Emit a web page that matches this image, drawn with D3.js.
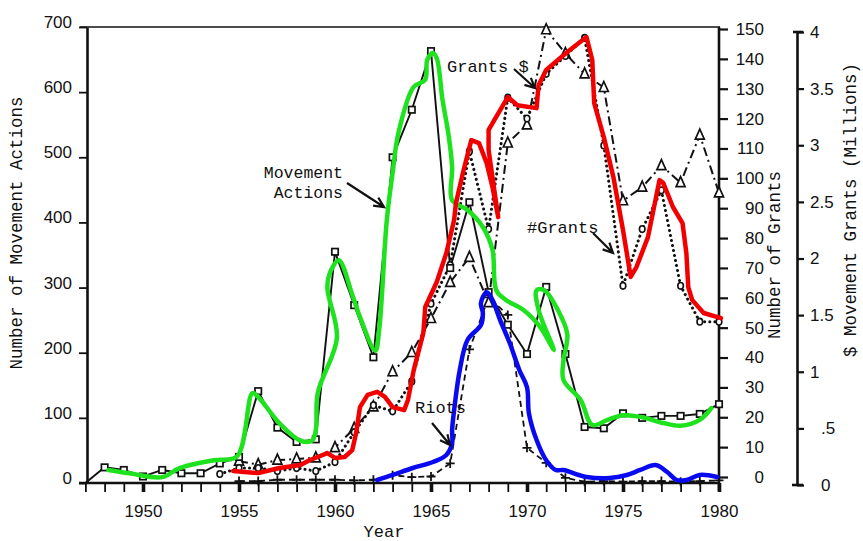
<!DOCTYPE html>
<html>
<head>
<meta charset="utf-8">
<script src="https://cdn.jsdelivr.net/npm/d3@7"></script>
<style>
  body { margin: 0; background: #fff; }
  .tick text { font-family: "Liberation Sans", Arial, sans-serif; font-size: 17px; fill: #111; }
  .mono { font-family: "Liberation Mono", "DejaVu Sans Mono", monospace; font-size: 17px; fill: #111; }
</style>
</head>
<body>
<div id="chart"></div>
<script>
// ---- data ----
var actionYears = [1947,1948,1949,1950,1951,1952,1953,1954,1955,1956,1957,1958,1959,1960,1961,1962,1963,
                   1964,1965,1966,1967,1968,1969,1970,1971,1972,1973,1974,1975,1976,1977,1978,1979,1980];
var actions = [0,24,20,10,20,15,15,30,40,141,85,63,67,355,273,193,500,
               573,663,330,431,293,243,198,301,198,86,84,107,100,103,103,106,121];

var riotYears = [1955,1956,1957,1958,1959,1960,1961,1962,1963,1964,1965,1966,1967,
                 1968,1969,1970,1971,1972,1973,1974,1975,1976,1977,1978,1979,1980];
var riots = [3,3,5,5,5,5,4,5,12,9,10,30,205,285,258,54,31,8,2,3,2,3,3,2,3,4];

var grantYears = [1954,1955,1956,1957,1958,1959,1960,1961,1962,1963,1964,1965,1966,1967,
                  1968,1969,1970,1971,1972,1973,1974,1975,1976,1977,1978,1979,1980];
var grantCount = [1,3,3,2,3,2,5,15,24,22,32,58,71,109,83,127,120,135,141,147,111,64,83,96,64,52,52];

var dollarYears = [1955,1956,1957,1958,1959,1960,1961,1962,1963,1964,1965,1966,1967,
                   1968,1969,1970,1971,1972,1973,1974,1975,1976,1977,1978,1979,1980];
var grantDollars = [0.21,0.18,0.22,0.23,0.24,0.33,0.50,0.69,1.00,1.17,1.47,1.79,2.01,
                    1.61,3.02,3.18,4.02,3.81,3.63,3.51,2.51,2.63,2.82,2.67,3.09,2.58];

// hand-drawn coloured traces: [year, value]
var greenTrace = [[1948.2,20],[1949.3,15],[1951.0,9],[1951.9,23],[1953.7,35],[1954.9,41],[1955.7,138],
  [1956.0,132],[1957.1,92],[1958.2,65],[1958.8,65],[1959.0,81],[1959.1,138],[1960.1,223],[1959.6,301],
  [1959.8,327],[1960.2,342],[1960.9,289],[1961.3,255],[1962.1,203],[1962.3,235],[1962.7,404],[1963.0,476],
  [1963.3,537],[1964.1,608],[1964.7,619],[1964.8,649],[1965.1,660],[1965.3,652],[1965.6,588],[1965.9,537],
  [1966.1,485],[1966.1,434],[1966.9,419],[1967.7,393],[1968.2,358],[1968.4,296],[1968.9,281],[1969.8,266],
  [1970.7,239],[1971.4,204],[1970.6,266],[1970.5,296],[1970.9,296],[1971.6,266],[1972.1,228],[1971.9,188],
  [1971.9,158],[1972.8,127],[1973.4,89],[1974.2,97],[1975.0,104],[1976.0,101],[1977.1,92],[1978.0,88],
  [1979.0,97],[1979.6,115]];

var redTrace = [[1954.7,2],[1956.0,1.3],[1957.1,3],[1958.2,4],[1958.7,5.7],[1959.1,6.7],[1959.6,8],
  [1960.0,6.4],[1960.5,6.7],[1960.9,9],[1961.1,14.7],[1961.3,23.4],[1961.7,27.5],[1962.2,28.5],
  [1962.6,26.8],[1963.0,23.4],[1963.6,22.4],[1963.8,25.8],[1964.1,35.8],[1964.6,48.2],[1964.7,56.9],
  [1965.3,65.3],[1965.8,75],[1966.2,86],[1966.3,91.7],[1966.7,102.8],[1967.1,112.8],[1967.5,111.8],
  [1967.9,105.1],[1968.2,97.1],[1968.5,87],[1968.2,100.4],[1968.0,109.5],[1968.0,116.2],[1969.0,127.2],
  [1969.5,124.5],[1970.5,123.5],[1970.6,131.2],[1971.0,136.3],[1972.1,142.3],[1973.1,147.3],
  [1973.4,139.6],[1973.5,125.2],[1974.0,113.8],[1974.5,100.4],[1975.0,82.7],[1975.4,67],[1975.7,70.3],
  [1976.3,80.3],[1976.9,99.4],[1977.1,98.4],[1977.6,90.4],[1978.1,85],[1978.3,75],[1978.4,63.6],
  [1978.6,59.3],[1979.2,54.9],[1980.1,53.2]];

var blueTrace = [[1962.2,4.6],[1963.0,12.3],[1964.05,23],[1965.1,32.2],[1965.8,43],[1966.1,61.4],
  [1966.1,81.4],[1966.25,122.8],[1966.5,173.5],[1966.9,219.5],[1967.6,242.6],[1967.7,261],[1967.6,276],
  [1967.9,293],[1968.2,281],[1968.6,250],[1969.1,215],[1969.6,173.5],[1970.0,147],[1970.1,107],
  [1970.5,66],[1971.0,35],[1971.5,20],[1971.9,20],[1972.7,12.3],[1973.1,9.2],[1974.3,7.7],[1975.2,12.3],
  [1975.9,20],[1976.7,27.6],[1977.3,16.9],[1977.8,4.6],[1978.3,4.6],[1979.0,12.3],[1979.9,9.2]];

var yearTicks = [1947,1948,1949,1950,1951,1952,1953,1954,1955,1956,1957,1958,1959,1960,1961,1962,1963,
                 1964,1965,1966,1967,1968,1969,1970,1971,1972,1973,1974,1975,1976,1977,1978,1979,1980];
var actionTicks = [0,100,200,300,400,500,600,700];
var grantTicks = [0,10,20,30,40,50,60,70,80,90,100,110,120,130,140,150];
var dollarTicks = [0,0.5,1,1.5,2,2.5,3,3.5,4];
var dollarLabels = ["0",".5","1","1.5","2","2.5","3","3.5","4"];

// ---- chart ----
var svg = d3.select("#chart").append("svg")
    .attr("width", 863).attr("height", 541)
    .style("background", "#fff");

var x = d3.scaleLinear().domain([1947, 1980]).range([85.4, 719]);
var yL = d3.scaleLinear().domain([0, 700]).range([483, 27]);
var yG = d3.scaleLinear().domain([0, 150]).range([477, 29]);
var yD = d3.scaleLinear().domain([0, 4]).range([485, 32]);

var ink = "#111";

// top frame and extended axis ends
svg.append("line").attr("x1", 80).attr("x2", 720).attr("y1", 27).attr("y2", 27)
    .attr("stroke", ink).attr("stroke-width", 1.6);
svg.append("line").attr("x1", 79).attr("x2", 720).attr("y1", 483).attr("y2", 483)
    .attr("stroke", ink).attr("stroke-width", 2.6);
svg.append("line").attr("x1", 719).attr("x2", 719).attr("y1", 27).attr("y2", 491)
    .attr("stroke", ink).attr("stroke-width", 2.6);

// X axis
var gx = svg.append("g").attr("transform", "translate(0,483)")
    .call(d3.axisBottom(x).tickValues(yearTicks).tickSize(9).tickSizeOuter(0)
      .tickFormat(function(d) { return (d % 5 == 0) ? d : ""; }));
gx.select(".domain").remove();
gx.selectAll(".tick line").attr("stroke", ink)
    .attr("stroke-width", function(d) { return d % 5 == 0 ? 3.6 : 1.8; });
gx.selectAll(".tick text").attr("y", 22);

// left axis
var gl = svg.append("g").attr("transform", "translate(87,0)")
    .call(d3.axisLeft(yL).tickValues(actionTicks).tickSize(8).tickPadding(7).tickSizeOuter(0));
gl.select(".domain").attr("stroke", ink).attr("stroke-width", 2.6);
gl.selectAll(".tick line").attr("stroke", ink).attr("stroke-width", 1.8);
gl.selectAll(".tick text").attr("y", -5);

// number of grants axis
var gg = svg.append("g").attr("transform", "translate(719,0)")
    .call(d3.axisRight(yG).tickValues(grantTicks).tickSize(9).tickSizeOuter(0));
gg.select(".domain").remove();
gg.selectAll(".tick line").attr("stroke", ink).attr("stroke-width", 2.2);
gg.selectAll(".tick text").attr("x", 45).attr("text-anchor", "end");

// $ axis
var gd = svg.append("g").attr("transform", "translate(797,0)")
    .call(d3.axisRight(yD).tickValues(dollarTicks).tickSize(7).tickSizeOuter(0)
      .tickFormat(function(d, i) { return dollarLabels[i]; }));
gd.select(".domain").attr("stroke", ink).attr("stroke-width", 2.6);
gd.selectAll(".tick line").attr("stroke", ink).attr("stroke-width", 2.2);
gd.selectAll(".tick text").attr("x", function(d) { return d < 1 ? 24 : 13; });
svg.append("line").attr("x1", 792).attr("x2", 803).attr("y1", yD(0)).attr("y2", yD(0))
    .attr("stroke", ink).attr("stroke-width", 2.6);
svg.append("line").attr("x1", 793).attr("x2", 803).attr("y1", yD(4)).attr("y2", yD(4))
    .attr("stroke", ink).attr("stroke-width", 2.6);

// axis titles
svg.append("text").attr("class", "mono").style("font-size", "17.5px")
    .attr("transform", "translate(22,233) rotate(-90)").attr("text-anchor", "middle")
    .text("Number of Movement Actions");
svg.append("text").attr("class", "mono").style("font-size", "17.5px")
    .attr("transform", "translate(780,255) rotate(-90)").attr("text-anchor", "middle")
    .text("Number of Grants");
svg.append("text").attr("class", "mono").style("font-size", "17.5px")
    .attr("transform", "translate(856,210) rotate(-90)").attr("text-anchor", "middle")
    .text("$ Movement Grants (Millions)");
svg.append("text").attr("class", "mono").attr("x", 384).attr("y", 537)
    .attr("text-anchor", "middle").text("Year");

// ---- black printed series ----
function pairs(xs, ys) { return xs.map(function(d, i) { return [d, ys[i]]; }); }

var actionPts = pairs(actionYears, actions);
var riotPts = pairs(riotYears, riots);
var grantPts = pairs(grantYears, grantCount);
var dollarPts = pairs(dollarYears, grantDollars);

function drawLine(pts, yScale, dash, width) {
  svg.append("path").datum(pts)
    .attr("fill", "none").attr("stroke", ink).attr("stroke-width", width)
    .attr("stroke-dasharray", dash).attr("stroke-linecap", dash == "0.1 5" ? "round" : "butt")
    .attr("d", d3.line().x(function(d) { return x(d[0]); }).y(function(d) { return yScale(d[1]); }));
}

drawLine(riotPts, yL, "6 4", 1.8);
drawLine(dollarPts, yD, "9 4 2 4", 2);
drawLine(grantPts, yG, "0.1 5", 3);
drawLine(actionPts, yL, null, 1.9);

// markers
svg.append("g").selectAll("path").data(riotPts).enter().append("path")
    .attr("d", "M-4.5,0H4.5M0,-4.5V4.5").attr("stroke", ink).attr("stroke-width", 1.8)
    .attr("transform", function(d) { return "translate(" + x(d[0]) + "," + yL(d[1]) + ")"; });

svg.append("g").selectAll("path").data(dollarPts).enter().append("path")
    .attr("d", "M0,-6L4.5,4H-4.5Z").attr("fill", "#fff").attr("stroke", ink).attr("stroke-width", 1.7)
    .attr("transform", function(d) { return "translate(" + x(d[0]) + "," + yD(d[1]) + ")"; });

svg.append("g").selectAll("ellipse").data(grantPts).enter().append("ellipse")
    .attr("cx", function(d) { return x(d[0]); }).attr("cy", function(d) { return yG(d[1]); })
    .attr("rx", 2.8).attr("ry", 3.3).attr("fill", "#fff").attr("stroke", ink).attr("stroke-width", 1.6);

svg.append("g").selectAll("rect").data(actionPts.slice(1)).enter().append("rect")
    .attr("x", function(d) { return x(d[0]) - 3.2; }).attr("y", function(d) { return yL(d[1]) - 3.2; })
    .attr("width", 6.4).attr("height", 6.4).attr("fill", "#fff").attr("stroke", ink).attr("stroke-width", 1.7);

// ---- coloured hand-drawn traces ----
svg.append("path").datum(greenTrace)
    .attr("fill", "none").attr("stroke", "#1fe21f").attr("stroke-width", 4.5)
    .attr("stroke-linejoin", "round").attr("stroke-linecap", "round")
    .attr("d", d3.line().curve(d3.curveCatmullRom.alpha(0.5))
      .x(function(d) { return x(d[0]); }).y(function(d) { return yL(d[1]); }));

svg.append("path").datum(redTrace)
    .attr("fill", "none").attr("stroke", "#f20000").attr("stroke-width", 4.5)
    .attr("stroke-linejoin", "round").attr("stroke-linecap", "round")
    .attr("d", d3.line().x(function(d) { return x(d[0]); }).y(function(d) { return yG(d[1]); }));

svg.append("path").datum(blueTrace)
    .attr("fill", "none").attr("stroke", "#0a0af0").attr("stroke-width", 4.5)
    .attr("stroke-linejoin", "round").attr("stroke-linecap", "round")
    .attr("d", d3.line().curve(d3.curveCatmullRom.alpha(0.5))
      .x(function(d) { return x(d[0]); }).y(function(d) { return yL(d[1]); }));

// ---- annotations ----
function arrow(x1, y1, x2, y2) {
  var a = Math.atan2(y2 - y1, x2 - x1), h = 11, s = 0.45;
  svg.append("path")
    .attr("d", "M" + x1 + "," + y1 + "L" + x2 + "," + y2 +
      "M" + (x2 - h * Math.cos(a - s)) + "," + (y2 - h * Math.sin(a - s)) + "L" + x2 + "," + y2 +
      "L" + (x2 - h * Math.cos(a + s)) + "," + (y2 - h * Math.sin(a + s)))
    .attr("fill", "none").attr("stroke", ink).attr("stroke-width", 2.2);
}

svg.append("text").attr("class", "mono").style("font-size", "16.5px")
    .attr("x", 343).attr("y", 178).attr("text-anchor", "end").text("Movement");
svg.append("text").attr("class", "mono").style("font-size", "16.5px")
    .attr("x", 343).attr("y", 198).attr("text-anchor", "end").text("Actions");
arrow(347, 183, 384, 207);

svg.append("text").attr("class", "mono").attr("x", 447).attr("y", 72).text("Grants $");
arrow(514, 69, 535, 88);

svg.append("text").attr("class", "mono").attr("x", 527).attr("y", 233).text("#Grants");
arrow(593, 233, 613, 253);

svg.append("text").attr("class", "mono").attr("x", 415).attr("y", 413).text("Riots");
arrow(432, 423, 450, 445);
</script>
</body>
</html>
